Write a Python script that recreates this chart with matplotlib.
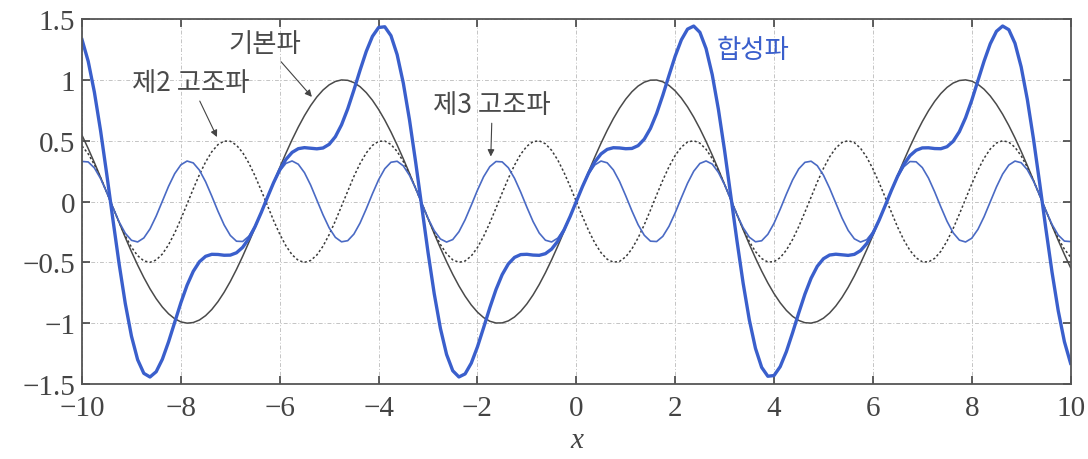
import matplotlib.pyplot as plt
import numpy as np

# harmonic series: k-th harmonic = amp * sin(k x)
harmonic_order = [1, 2, 3]
harmonic_amp = [1.0, -0.5, 1.0 / 3.0]
x_range = [-10, 10]
n_samples = 161

y_ticks = [-1.5, -1, -0.5, 0, 0.5, 1, 1.5]
y_labels = ["\u22121.5", "\u22121", "\u22120.5", "0", "0.5", "1", "1.5"]
x_ticks = [-10, -8, -6, -4, -2, 0, 2, 4, 6, 8, 10]

KFONT = ["Noto Sans CJK KR", "DejaVu Sans"]

plt.rcParams["font.family"] = ["Liberation Serif", "DejaVu Serif"]

x = np.linspace(x_range[0], x_range[1], n_samples)
waves = [a * np.sin(k * x) for k, a in zip(harmonic_order, harmonic_amp)]
total = np.sum(waves, axis=0)

fig = plt.figure(figsize=(10.88, 4.6), dpi=100)
ax = fig.add_axes([0.0754, 0.163, 0.9086, 0.7935])

ax.plot(x, waves[0], color="#4a4a4a", lw=1.1)
ax.plot(x, waves[1], color="#3a3a3a", lw=1.1, ls=(0, (1.5, 1.5)))
ax.plot(x, waves[2], color="#4a6ac4", lw=1.2)
ax.plot(x, total, color="#3a5fcc", lw=2.4)

ax.set_xlim(*x_range)
ax.set_ylim(-1.5, 1.5)
ax.set_xticks(x_ticks)
ax.set_yticks(y_ticks)
ax.set_yticklabels(y_labels)
ax.set_xticklabels([("\u2212" + str(-t)) if t < 0 else str(t) for t in x_ticks])
ax.tick_params(direction="in", length=6, width=1.2, colors="#444444",
               labelsize=21, top=True, right=True)
ax.tick_params(axis="x", pad=8)
ax.tick_params(axis="y", pad=5)
ax.grid(True, color="#c4c4c4", ls=(0, (4, 2, 1, 2)), lw=0.7)
for s in ax.spines.values():
    s.set_color("#555555")
    s.set_linewidth(1.3)
ax.set_xlabel("x", fontsize=21, style="italic", color="#444444", labelpad=4)

arrow = dict(arrowstyle="-|>", color="#444444", lw=0.8,
             mutation_scale=10, shrinkA=2, shrinkB=0)
label_style = dict(fontsize=19, family=KFONT, fontweight="light",
                   color="#4a4a4a", ha="center", va="center")
ax.annotate("기본파", xy=(-5.35, 0.86), xytext=(-6.3, 1.3),
            arrowprops=arrow, **label_style)
ax.annotate("제2 고조파", xy=(-7.27, 0.53), xytext=(-7.8, 0.98),
            arrowprops=arrow, **label_style)
ax.annotate("제3 고조파", xy=(-1.73, 0.37), xytext=(-1.7, 0.8),
            arrowprops=arrow, **label_style)
ax.text(3.57, 1.25, "합성파", fontsize=19, family=KFONT, fontweight="light",
        color="#3a5fcc", ha="center", va="center")

fig.savefig("out.png", dpi=100)
